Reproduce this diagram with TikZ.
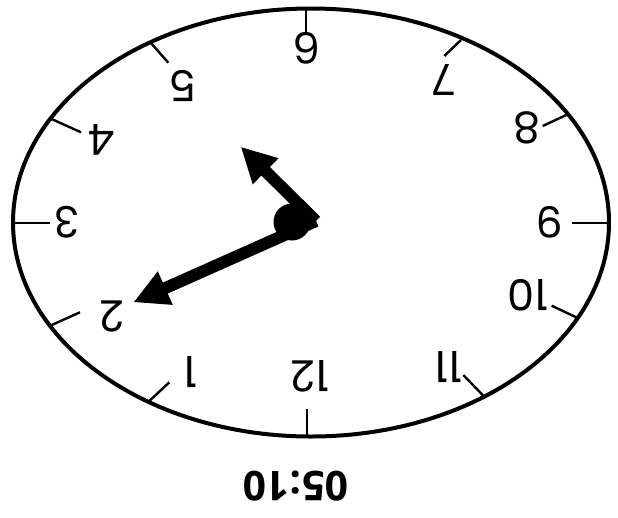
\documentclass[tikz,border=0pt]{standalone}
\usepackage{fontspec}
\usetikzlibrary{arrows.meta}
\newfontfamily\numfont{Poppins}
\newfontfamily\timefont{Open Sans}
\begin{document}
\begin{tikzpicture}[x=1pt,y=-1pt,
  face/.style={draw=black,line width=4pt},
  tickline/.style={draw=black,line width=2.4pt},
  numlabel/.style={rotate=180,inner sep=0pt,font=\numfont\fontsize{43}{43}\selectfont},
  hand/.style={line width=12pt,-{Triangle[length=35pt,width=34pt]}},
  timelabel/.style={rotate=180,inner sep=0pt,font=\timefont\bfseries\fontsize{41}{41}\selectfont}]
\useasboundingbox (0,0) rectangle (618,517);
\draw[face] (311,222.5) ellipse [x radius=298, y radius=214];
% ticks
\foreach \n/\ox/\oy/\ix/\iy in {
  6/306/8.3/306/33.3, 7/461/40/444.3/56, 8/568.3/114/542.7/126,
  9/609.3/222.7/571.7/222.7, 10/578.3/318.3/551.7/305.7, 11/483.3/395.7/463.3/375,
  12/306.7/436.7/306.7/409.3, 1/149.3/401/169.3/382.3, 2/51.7/325/80/312.3,
  3/13.3/222.7/50/222.7, 4/50/118.3/81/132.3, 5/150.7/42.7/168.3/62.7}{
  \coordinate (to\n) at (\ox,\oy);
  \coordinate (ti\n) at (\ix,\iy);
  \draw[tickline] (to\n) -- (ti\n);
}
% labels
\node[numlabel] (l6) at (306.7,48.3) {6};
\node[numlabel] (l7) at (443.3,80) {7};
\node[numlabel] (l8) at (526.7,128.3) {8};
\node[numlabel] (l9) at (550,222.7) {9};
\node[numlabel] (l10) at (528.3,295) {10};
\node[numlabel] (l11) at (448.3,366.7) {11};
\node[numlabel] (l12) at (310,376.7) {12};
\node[numlabel] (l1) at (190.7,371.7) {1};
\node[numlabel] (l2) at (111.7,316.7) {2};
\node[numlabel] (l3) at (66.7,222.7) {3};
\node[numlabel] (l4) at (101.7,140) {4};
\node[numlabel] (l5) at (182.7,86) {5};
% hands
\coordinate (ctr) at (316,221);
\coordinate (htip) at (240.7,146.7);
\coordinate (mtip) at (133.3,302.3);
\draw[hand] (ctr) -- (htip);
\draw[hand] (ctr) -- (mtip);
\node[circle,fill=black,inner sep=0pt,minimum size=37pt] (hub) at (292,222) {};
% time
\node[timelabel] (time) at (295.8,485.8) {05:10};
\end{tikzpicture}
\end{document}
